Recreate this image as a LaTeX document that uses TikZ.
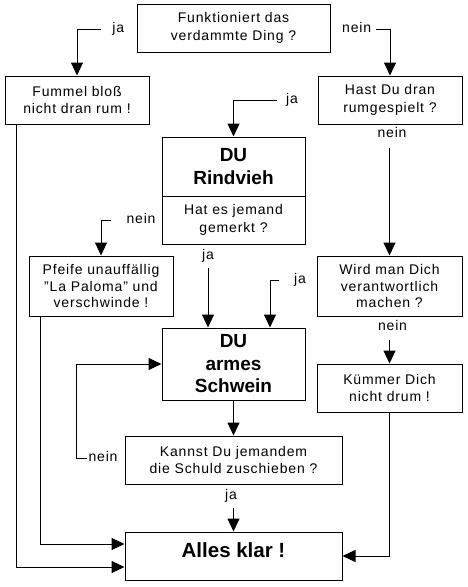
\documentclass[tikz,border=0pt]{standalone}
\usepackage{fontspec}
\setmainfont{Liberation Sans}[LetterSpace=6]
\newfontfamily\hdfont{Liberation Sans}
\usetikzlibrary{arrows.meta,calc}
\tikzset{
  box/.style={draw, line width=1pt, align=center, inner sep=0pt, font=\fontsize{14}{17.5}\selectfont},
  hd/.style={box, font=\hdfont\bfseries\fontsize{19}{22.5}\selectfont},
  lab/.style={inner sep=0pt, text height=7pt, text depth=0pt, font=\fontsize{14}{17}\selectfont},
  arr/.style={line width=1pt, -{Triangle[length=13pt,width=12pt]}},
}
\begin{document}
\begin{tikzpicture}[x=1pt,y=-1pt]
\useasboundingbox (0,0) rectangle (467,587);
% boxes
\node[box, minimum width=193pt, minimum height=48pt] (q1) at (233.5,28) {Funktioniert das\\verdammte Ding ?};
\node[box, minimum width=144pt, minimum height=48pt] (fummel) at (77,100) {Fummel bloß\\nicht dran rum !};
\node[box, minimum width=144pt, minimum height=48pt] (hast) at (390,100) {Hast Du dran\\rumgespielt ?};
\node[hd, minimum width=143pt, minimum height=59pt] (rindtop) at (233.5,166.5) {DU\\Rindvieh};
\node[box, minimum width=143pt, minimum height=48pt] (rindq) at (233.5,220) {Hat es jemand\\gemerkt ?};
\node[box, minimum width=144pt, minimum height=60pt, font=\fontsize{14}{16.5}\selectfont] (pfeife) at (101,286) {Pfeife unauffällig\\"La Paloma" und\\verschwinde !};
\node[box, minimum width=145pt, minimum height=60pt, font=\fontsize{14}{16.5}\selectfont] (wird) at (389.5,286) {Wird man Dich\\verantwortlich\\machen ?};
\node[hd, minimum width=143pt, minimum height=72pt] (armes) at (233.5,364) {DU\\armes\\Schwein};
\node[box, minimum width=145pt, minimum height=48pt] (kuemmer) at (389.5,388) {Kümmer Dich\\nicht drum !};
\node[box, minimum width=217pt, minimum height=48pt] (kannst) at (233.5,460) {Kannst Du jemandem\\die Schuld zuschieben ?};
\node[hd, minimum width=217pt, minimum height=48pt, font=\hdfont\bfseries\fontsize{20.5}{22}\selectfont, text height=14pt, text depth=12pt] (alles) at (233.5,556) {Alles klar !};
% labels
\node[lab] (ja1) at (118.3,29) {ja};
\node[lab] (nein1) at (356.7,29) {nein};
\node[lab] (ja2) at (292,100) {ja};
\node[lab] (nein2) at (392,134) {nein};
\node[lab] (nein3) at (141,220) {nein};
\node[lab] (ja3) at (208,256) {ja};
\node[lab] (ja4) at (300,280) {ja};
\node[lab] (nein4) at (392.5,327) {nein};
\node[lab] (nein5) at (103,458) {nein};
\node[lab] (ja5) at (231,496) {ja};
% connectors
\draw[arr, shorten <=11.7pt] (ja1.west) -| (fummel.north);
\draw[arr, shorten <=5pt] (nein1.east) -| (hast.north);
\draw[arr, shorten <=9pt] (ja2.west) -| (rindtop.north);
\draw[arr, shorten <=10.5pt] (nein2.south -| wird.north) -- (wird.north);
\draw[arr, shorten <=15pt] (nein3.west) -| (pfeife.north);
\draw[arr, shorten <=8.5pt] (ja3.south) -- (ja3.south |- armes.north);
\draw[arr, shorten <=15pt] (ja4.west) -| ([xshift=36.5pt]armes.north);
\draw[arr, shorten <=9.5pt] (nein4.south -| kuemmer.north) -- (kuemmer.north);
\draw[arr] ([xshift=-1pt]nein5.west) -- ++(-11,0) |- (armes.west);
\draw[arr, shorten <=8.5pt] (ja5.south -| alles.north) -- (alles.north);
\draw[arr] (armes.south) -- (kannst.north);
\draw[arr] (kuemmer.south) |- (alles.east);
\draw[arr] ([xshift=12pt]pfeife.south west) |- ([yshift=12pt]alles.west);
\draw[arr] ([xshift=12pt]fummel.south west) |- ([yshift=-11pt]alles.west);
\end{tikzpicture}
\end{document}
